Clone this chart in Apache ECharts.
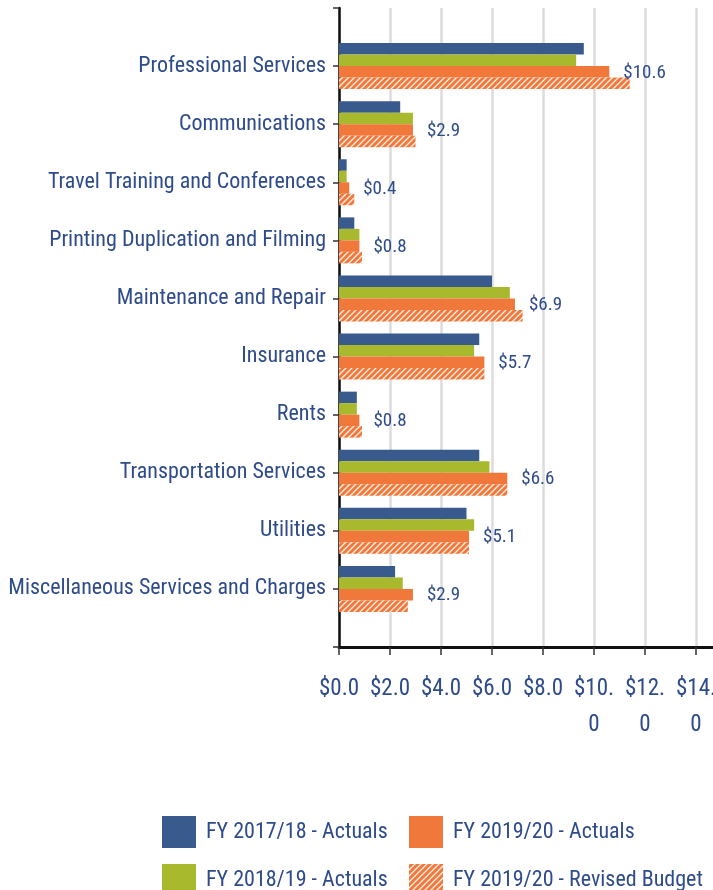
<!DOCTYPE html>
<html>
<head>
<meta charset="utf-8">
<script src="https://cdn.jsdelivr.net/npm/echarts@6/dist/echarts.min.js"></script>
<style>
  html, body { margin: 0; padding: 0; background: #fff; }
  #chart { width: 713px; height: 890px; }
</style>
</head>
<body>
<div id="chart"></div>
<script>
// blank slots at top and bottom so the first/last categories sit off the axis ends
const categories = ['', 'Professional Services', 'Communications', 'Travel Training and Conferences',
  'Printing Duplication and Filming', 'Maintenance and Repair', 'Insurance', 'Rents',
  'Transportation Services', 'Utilities', 'Miscellaneous Services and Charges', ''];

const fy1718Actuals = [null, 9.6, 2.4, 0.3, 0.6, 6.0, 5.5, 0.7, 5.5, 5.0, 2.2, null];
const fy1819Actuals = [null, 9.3, 2.9, 0.3, 0.8, 6.7, 5.3, 0.7, 5.9, 5.3, 2.5, null];
const fy1920Actuals = [null, 10.6, 2.9, 0.4, 0.8, 6.9, 5.7, 0.8, 6.6, 5.1, 2.9, null];
const fy1920Budget = [null, 11.4, 3.0, 0.6, 0.9, 7.2, 5.7, 0.9, 6.6, 5.1, 2.7, null];

const seriesNames = ['FY 2017/18 - Actuals', 'FY 2018/19 - Actuals', 'FY 2019/20 - Actuals', 'FY 2019/20 - Revised Budget'];

const textColor = '#2e4b8b';
const font = '"Roboto Condensed", "DejaVu Sans Condensed", sans-serif';
const blue = '#395a8d';
const green = '#a9b92d';
const orange = '#ef783a';

// hatch pattern for the revised budget bars
function makeHatch() {
  const c = document.createElement('canvas');
  c.width = 6; c.height = 6;
  const ctx = c.getContext('2d');
  ctx.fillStyle = orange;
  ctx.fillRect(0, 0, 6, 6);
  ctx.strokeStyle = 'rgba(255,255,255,0.85)';
  ctx.lineWidth = 1.4;
  ctx.beginPath();
  ctx.moveTo(-1, 7); ctx.lineTo(7, -1);
  ctx.moveTo(-4, 4); ctx.lineTo(4, -4);
  ctx.moveTo(2, 10); ctx.lineTo(10, 2);
  ctx.stroke();
  return c;
}
const hatch = { image: makeHatch(), repeat: 'repeat' };

const chart = echarts.init(document.getElementById('chart'));

const barWidth = 11.5;

function legendAt(left, top, name) {
  return {
    orient: 'vertical', left: left, top: top,
    padding: 0,
    itemWidth: 34, itemHeight: 32,
    icon: 'rect',
    textStyle: { color: textColor, fontSize: 22, fontFamily: font, padding: [0, 0, 0, 5] },
    data: [name]
  };
}

const option = {
  animation: false,
  textStyle: { fontFamily: font },
  grid: { left: 339, top: 8, width: 377.4, bottom: 243, outerBoundsMode: 'none' },
  legend: [
    legendAt(162, 816, seriesNames[0]),
    legendAt(162, 864, seriesNames[1]),
    legendAt(409, 816, seriesNames[2]),
    legendAt(409, 864, seriesNames[3])
  ],
  xAxis: {
    type: 'value',
    min: 0,
    max: 14.8,
    interval: 2,
    axisLine: { show: true, lineStyle: { color: '#111', width: 3 } },
    axisTick: { show: true, length: 8, lineStyle: { color: '#333', width: 1.5 } },
    splitLine: { show: true, lineStyle: { color: '#dcdcdc', width: 2.5 } },
    axisLabel: {
      color: textColor, fontSize: 23, fontFamily: font, margin: 24, lineHeight: 36,
      showMinLabel: true, hideOverlap: false,
      formatter: function (v) {
        if (v % 2 !== 0) return '';
        const s = '$' + v.toFixed(1);
        return v >= 10 ? s.slice(0, 4) + '\n' + s.slice(4) : s;
      }
    }
  },
  yAxis: {
    type: 'category',
    inverse: true,
    boundaryGap: false,
    data: categories,
    axisLine: { show: true, lineStyle: { color: '#111', width: 2.5 } },
    axisTick: { show: true, length: 6, interval: 0, lineStyle: { color: '#333', width: 1.5 } },
    axisLabel: { color: textColor, fontSize: 22, fontFamily: font, margin: 13, interval: 0 },
    splitLine: { show: false }
  },
  series: [
    { name: seriesNames[0], type: 'bar', data: fy1718Actuals, barWidth: barWidth, barGap: '0%',
      itemStyle: { color: blue } },
    { name: seriesNames[1], type: 'bar', data: fy1819Actuals, barWidth: barWidth, barGap: '0%',
      itemStyle: { color: green } },
    { name: seriesNames[2], type: 'bar', data: fy1920Actuals, barWidth: barWidth, barGap: '0%',
      itemStyle: { color: orange },
      label: {
        show: true, position: 'right', distance: 14, offset: [0, 1],
        color: textColor, fontSize: 19, fontFamily: font,
        formatter: function (p) { return '$' + p.value.toFixed(1); }
      } },
    { name: seriesNames[3], type: 'bar', data: fy1920Budget, barWidth: barWidth, barGap: '0%',
      itemStyle: { color: hatch } }
  ]
};

chart.setOption(option);
</script>
</body>
</html>
